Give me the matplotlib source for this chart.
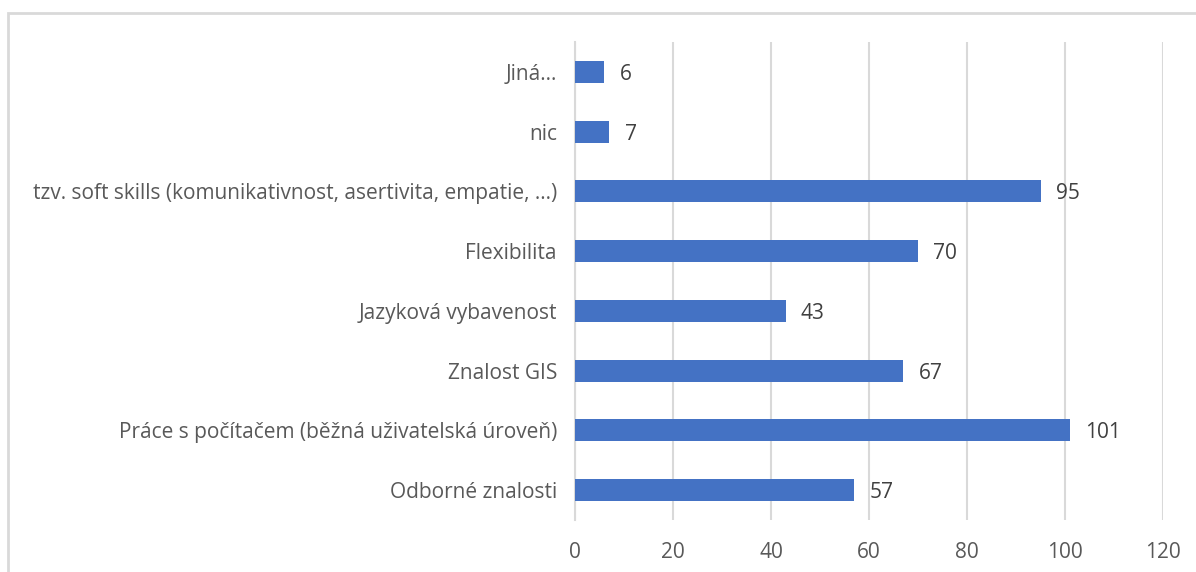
import matplotlib
matplotlib.use("Agg")
import matplotlib.pyplot as plt
from matplotlib.patches import Rectangle

plt.rcParams['font.family'] = ['Open Sans', 'DejaVu Sans']

categories = [
    "Odborné znalosti",
    "Práce s počítačem (běžná uživatelská úroveň)",
    "Znalost GIS",
    "Jazyková vybavenost",
    "Flexibilita",
    "tzv. soft skills (komunikativnost, asertivita, empatie, ...)",
    "nic",
    "Jiná...",
]
values = [57, 101, 67, 43, 70, 95, 7, 6]
x_ticks = [0, 20, 40, 60, 80, 100, 120]

bar_color = "#4472C4"
grid_color = "#d9d9d9"
text_color = "#595959"

fig = plt.figure(figsize=(11.96, 5.72), dpi=100)
ax = fig.add_axes([575 / 1196, 1 - 520 / 572, (1163 - 575) / 1196, (520 - 42) / 572])

ypos = list(range(len(categories)))
ax.barh(ypos, values, height=0.37, color=bar_color, zorder=3)

# data labels
for y, v in zip(ypos, values):
    ax.annotate(str(v), (v, y), xytext=(11, 0), textcoords="offset points",
                va="center_baseline", ha="left", fontsize=15, color="#404040")

ax.set_xlim(0, 120)
ax.set_ylim(-0.5, len(categories) - 0.5)
ax.set_xticks(x_ticks)
ax.set_yticks(ypos)
ax.set_yticklabels(categories)
ax.xaxis.grid(True, color=grid_color, linewidth=1.5, zorder=0)
ax.tick_params(axis="both", length=0, labelsize=15, labelcolor=text_color)
ax.tick_params(axis="y", pad=13)
ax.tick_params(axis="x", pad=16)
for lbl in ax.get_yticklabels():
    lbl.set_verticalalignment("center_baseline")

for side in ["top", "right", "bottom"]:
    ax.spines[side].set_visible(False)
ax.spines["left"].set_color(grid_color)
ax.spines["left"].set_linewidth(1.5)

# chart border
fig.patches.append(Rectangle((8 / 1196, -0.05), 1.1, 1 - 13 / 572 + 0.05,
                             transform=fig.transFigure, fill=False,
                             edgecolor=grid_color, linewidth=2, clip_on=False))

fig.savefig("out.png", dpi=100)
